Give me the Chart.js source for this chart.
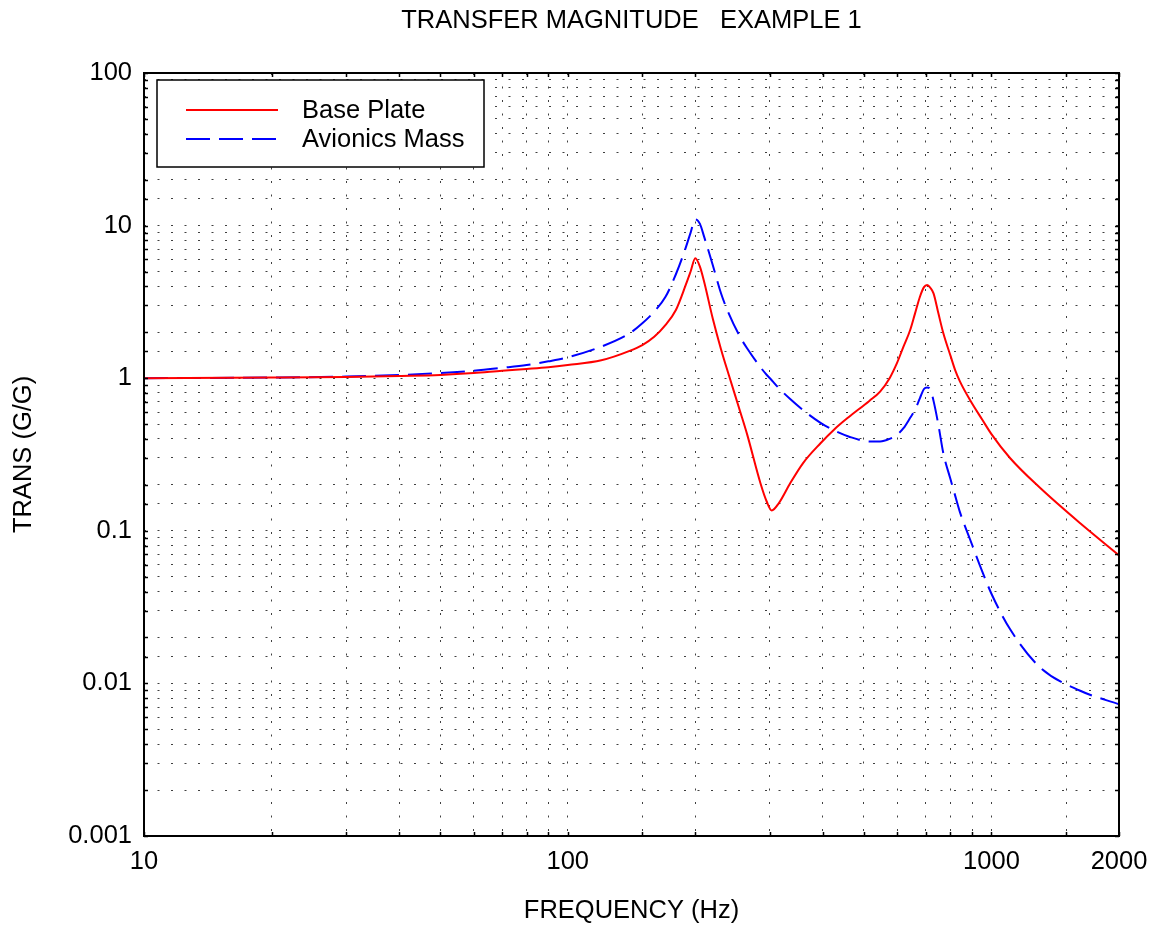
<!DOCTYPE html>
<html>
<head>
<meta charset="utf-8">
<title>Transfer magnitude</title>
<script src="https://cdn.jsdelivr.net/npm/chart.js@4.4.1/dist/chart.umd.min.js"></script>
<style>
  html, body { margin: 0; padding: 0; background: #fff; }
  #wrap { width: 1159px; height: 935px; }
</style>
</head>
<body>
<div id="wrap"><canvas id="transferChart"></canvas></div>
<script>
// frequencies (Hz) shared by both curves
const freq = [10, 20, 30, 40, 50, 60, 70, 80, 90, 100,
    120, 140, 150, 160, 170, 180, 190, 195, 200, 205,
    210, 220, 230, 240, 255, 265, 285, 295, 303, 315,
    335, 360, 395, 425, 460, 515, 546, 575, 598, 620,
    643, 660, 678, 693, 705, 718, 730, 750, 770, 800,
    821, 843, 890, 950, 1000, 1106, 1300, 1620, 2000];

const basePlate = [1.00, 1.01, 1.02, 1.035, 1.05, 1.08, 1.12, 1.15, 1.18, 1.22,
    1.31, 1.51, 1.65, 1.87, 2.23, 2.80, 4.1, 5.0, 6.1, 5.4,
    4.25, 2.45, 1.55, 1.05, 0.61, 0.43, 0.205, 0.155, 0.136, 0.152,
    0.205, 0.28, 0.375, 0.46, 0.555, 0.71, 0.817, 1.0, 1.25, 1.61,
    2.07, 2.65, 3.42, 3.95, 4.08, 3.9, 3.6, 2.64, 1.97, 1.41,
    1.13, 0.95, 0.72, 0.538, 0.43, 0.30, 0.192, 0.112, 0.069];

const avionicsMass = [1.00, 1.01, 1.025, 1.05, 1.08, 1.12, 1.17, 1.22, 1.29, 1.37,
    1.61, 1.97, 2.29, 2.73, 3.4, 4.8, 7.2, 9.0, 11.0, 10.3,
    8.4, 5.5, 3.6, 2.65, 1.87, 1.57, 1.18, 1.05, 0.97, 0.86,
    0.73, 0.615, 0.51, 0.455, 0.415, 0.385, 0.385, 0.40, 0.425, 0.47,
    0.55, 0.62, 0.74, 0.85, 0.87, 0.84, 0.71, 0.49, 0.322, 0.219,
    0.17, 0.132, 0.088, 0.0546, 0.0387, 0.0227, 0.0128, 0.00895, 0.0073];

const seriesNames = ['Base Plate', 'Avionics Mass'];
const xTickLabels = [10, 100, 1000, 2000];
const yTickLabels = ['0.001', '0.01', '0.1', '1', '10', '100'];

const FONT = "'Liberation Sans', Arial, Helvetica, sans-serif";
const font = { family: FONT, size: 25.5 };

function toPoints(ys) {
    return freq.map((f, i) => ({ x: f, y: ys[i] }));
}

// frame + small inward ticks on all four sides
const frameTicks = {
    id: 'frameTicks',
    afterDatasetsDraw(chart) {
        const { ctx, chartArea: a, scales } = chart;
        ctx.save();
        ctx.strokeStyle = '#000';
        ctx.lineWidth = 1.5;
        ctx.beginPath();
        scales.x.ticks.forEach(t => {
            const px = Math.round(scales.x.getPixelForValue(t.value)) + 0.5;
            ctx.moveTo(px, a.top); ctx.lineTo(px, a.top + 4);
            ctx.moveTo(px, a.bottom); ctx.lineTo(px, a.bottom - 4);
        });
        scales.y.ticks.forEach(t => {
            const py = Math.round(scales.y.getPixelForValue(t.value)) + 0.5;
            ctx.moveTo(a.left, py); ctx.lineTo(a.left + 4, py);
            ctx.moveTo(a.right, py); ctx.lineTo(a.right - 4, py);
        });
        ctx.stroke();
        ctx.lineWidth = 2;
        ctx.strokeRect(a.left, a.top, a.right - a.left, a.bottom - a.top);
        ctx.restore();
    }
};

// boxed legend in the upper left corner of the plot
const boxLegend = {
    id: 'boxLegend',
    afterDraw(chart) {
        const { ctx, chartArea: a } = chart;
        const left = a.left + 13, top = a.top + 7, w = 327, h = 87;
        ctx.save();
        ctx.fillStyle = '#fff';
        ctx.fillRect(left, top, w, h);
        ctx.strokeStyle = '#000';
        ctx.lineWidth = 1.5;
        ctx.strokeRect(left, top, w, h);
        chart.data.datasets.forEach((ds, i) => {
            const y = top + 30 + i * 29;
            ctx.beginPath();
            ctx.strokeStyle = ds.borderColor;
            ctx.lineWidth = ds.borderWidth;
            ctx.setLineDash(ds.borderDash || []);
            ctx.moveTo(left + 29, y);
            ctx.lineTo(left + 121, y);
            ctx.stroke();
            ctx.setLineDash([]);
            ctx.fillStyle = '#000';
            ctx.font = font.size + 'px ' + FONT;
            ctx.textBaseline = 'middle';
            ctx.fillText(ds.label, left + 145, y + 1);
        });
        ctx.restore();
    }
};

function isDecade(v) {
    const l = Math.log10(v);
    return Math.abs(l - Math.round(l)) < 1e-6;
}

new Chart(document.getElementById('transferChart').getContext('2d'), {
    type: 'line',
    data: {
        datasets: [
            {
                label: seriesNames[0],
                data: toPoints(basePlate),
                borderColor: '#ff0000',
                borderWidth: 2,
                pointRadius: 0,
                cubicInterpolationMode: 'monotone',
            },
            {
                label: seriesNames[1],
                data: toPoints(avionicsMass),
                borderColor: '#0000ff',
                borderWidth: 2,
                borderDash: [24, 9],
                pointRadius: 0,
                cubicInterpolationMode: 'monotone',
            },
        ],
    },
    options: {
        responsive: true,
        maintainAspectRatio: false,
        animation: false,
        layout: { padding: { left: 0, right: 40, top: 0, bottom: 0 } },
        plugins: {
            legend: { display: false },
            tooltip: { enabled: false },
            title: {
                display: true,
                fullSize: false,
                text: 'TRANSFER MAGNITUDE   EXAMPLE 1',
                color: '#000',
                font: { family: FONT, size: 25.5, weight: 'normal' },
                padding: { top: 6, bottom: 36.4 },
            },
        },
        scales: {
            x: {
                type: 'logarithmic',
                min: 10,
                max: 2000,
                afterFit(scale) { scale.height = 99; },
                border: { display: false, dash: [2, 11.5] },
                grid: { color: 'rgba(0,0,0,0.75)', lineWidth: 1, drawTicks: false },
                ticks: {
                    autoSkip: false,
                    maxRotation: 0,
                    padding: 11,
                    color: '#000',
                    font: font,
                    callback: value => xTickLabels.some(t => Math.abs(t - value) < 1e-6) ? String(Math.round(value)) : '',
                },
                title: {
                    display: true,
                    text: 'FREQUENCY (Hz)',
                    color: '#000',
                    font: font,
                    padding: { top: 0, bottom: 9 },
                },
            },
            y: {
                type: 'logarithmic',
                min: 0.001,
                max: 100,
                afterFit(scale) { scale.width = 144; },
                border: { display: false, dash: [2, 11.5] },
                grid: { color: 'rgba(0,0,0,0.75)', lineWidth: 1, drawTicks: false },
                ticks: {
                    autoSkip: false,
                    padding: 12,
                    color: '#000',
                    font: font,
                    callback: value => isDecade(value) ? yTickLabels[Math.round(Math.log10(value)) + 3] : '',
                },
                title: {
                    display: true,
                    text: 'TRANS (G/G)',
                    color: '#000',
                    font: font,
                    padding: { top: 9, bottom: 0 },
                },
            },
        },
    },
    plugins: [frameTicks, boxLegend],
});
</script>
</body>
</html>
